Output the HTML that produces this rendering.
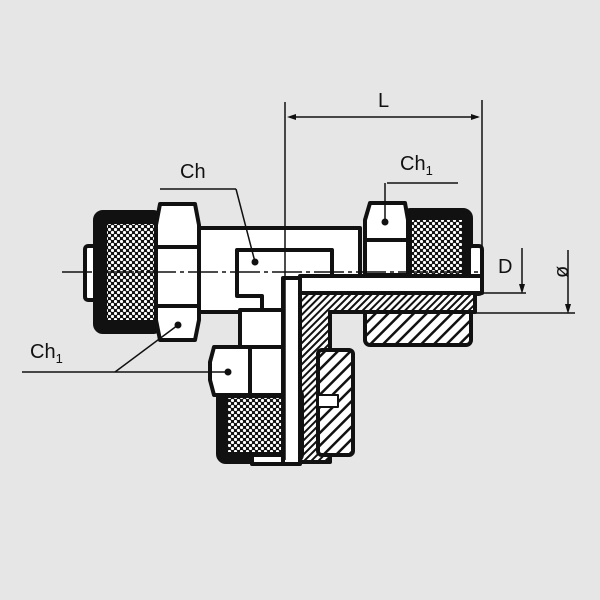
<!DOCTYPE html>
<html><head><meta charset="utf-8"><style>
html,body{margin:0;padding:0;background:#e6e6e6}
svg{display:block}
text{font-family:"Liberation Sans",sans-serif;fill:#111}
</style></head><body>
<svg width="600" height="600" viewBox="0 0 600 600" xmlns="http://www.w3.org/2000/svg">
<defs>
<pattern id="kn" width="6" height="6" patternUnits="userSpaceOnUse">
<rect width="6" height="6" fill="#111"/>
<circle cx="1.5" cy="1.5" r="1.6" fill="#fff"/>
<circle cx="4.5" cy="4.5" r="1.6" fill="#fff"/>
</pattern>
<pattern id="h1" width="5" height="5" patternUnits="userSpaceOnUse" patternTransform="rotate(45)">
<rect width="5" height="5" fill="#fff"/><rect width="2" height="5" fill="#111"/>
</pattern>
<pattern id="h2" width="9" height="9" patternUnits="userSpaceOnUse" patternTransform="rotate(45)">
<rect width="9" height="9" fill="#fff"/><rect width="2.5" height="9" fill="#111"/>
</pattern>
</defs>
<rect width="600" height="600" fill="#e6e6e6"/>

<g stroke="#111" stroke-width="4" stroke-linejoin="round">
<rect x="85" y="246" width="14" height="54" rx="3" fill="#fff"/>
<rect x="95" y="212" width="66" height="120" rx="8" fill="#111"/>
<rect x="107" y="224" width="48" height="96" fill="url(#kn)" stroke="none"/>
<rect x="197" y="228" width="163" height="84" fill="#fff"/>
<path d="M160 204 L195 204 L199 225 L199 320 L195 340 L160 340 L156 320 L156 225 Z" fill="#fff"/>
<line x1="158" y1="247" x2="197" y2="247"/>
<line x1="158" y1="306" x2="197" y2="306"/>
<path d="M237 250 L332 250 L332 278 L300 278 L300 318 L262 318 L262 296 L237 296 Z" fill="#fff"/>
<rect x="403" y="210" width="68" height="66" rx="8" fill="#111"/>
<rect x="412" y="220" width="50" height="54" fill="url(#kn)" stroke="none"/>
<rect x="469" y="246" width="13" height="48" rx="3" fill="#fff"/>
<path d="M370 203 L405 203 L408 220 L408 275 L365 275 L365 220 Z" fill="#fff"/>
<line x1="366" y1="240" x2="407" y2="240"/>
<rect x="240" y="310" width="45" height="40" fill="#fff"/>
<rect x="365" y="308" width="106" height="37" rx="5" fill="url(#h2)"/>
<path d="M300 292 L475 292 L475 312 L330 312 L330 462 L300 462 Z" fill="url(#h1)"/>
<rect x="218" y="388" width="84" height="74" rx="8" fill="#111"/>
<rect x="228" y="398" width="60" height="54" fill="url(#kn)" stroke="none"/>
<rect x="252" y="455" width="40" height="9" fill="#fff"/>
<path d="M214 347 L292 347 L292 395 L214 395 L210 380 L210 362 Z" fill="#fff"/>
<line x1="250" y1="349" x2="250" y2="393"/>
<rect x="318" y="350" width="35" height="105" rx="4" fill="url(#h2)"/>
<rect x="318" y="395" width="20" height="12" fill="#fff" stroke-width="2"/>
<rect x="283" y="278" width="17" height="186" fill="#fff"/>
<rect x="300" y="276" width="182" height="17" fill="#fff"/>
</g>

<g fill="#111">
<circle cx="255" cy="262" r="3.5"/>
<circle cx="178" cy="325" r="3.5"/>
<circle cx="228" cy="372" r="3.5"/>
<circle cx="385" cy="222" r="3.5"/>
</g>

<g stroke="#111" stroke-width="1.5" fill="none">
<line x1="62" y1="272" x2="480" y2="272" stroke-dasharray="30 4 4 4"/>
<line x1="285" y1="102" x2="285" y2="460"/>
<line x1="482" y1="100" x2="482" y2="275"/>
<line x1="290" y1="117" x2="478" y2="117"/>
<line x1="160" y1="189" x2="236" y2="189"/>
<line x1="236" y1="189" x2="255" y2="262"/>
<line x1="387" y1="183" x2="458" y2="183"/>
<line x1="385" y1="183" x2="385" y2="222"/>
<line x1="22" y1="372" x2="228" y2="372"/>
<line x1="115" y1="372" x2="178" y2="325"/>
<line x1="474" y1="293" x2="526" y2="293"/>
<line x1="522" y1="248" x2="522" y2="290"/>
<line x1="470" y1="313" x2="575" y2="313"/>
<line x1="568" y1="250" x2="568" y2="310"/>
</g>
<g fill="#111">
<path d="M287 117 L296 114 L296 120 Z"/>
<path d="M480 117 L471 114 L471 120 Z"/>
<path d="M522 294 L519 284 L525 284 Z"/>
<path d="M568 314 L565 304 L571 304 Z"/>
</g>

<text x="378" y="107" font-size="20">L</text>
<text x="180" y="178" font-size="20">Ch</text>
<text x="400" y="170" font-size="20">Ch<tspan font-size="13" dy="5">1</tspan></text>
<text x="30" y="358" font-size="20">Ch<tspan font-size="13" dy="5">1</tspan></text>
<text x="498" y="273" font-size="20">D</text>
<text x="553" y="277" font-size="20" transform="rotate(-90 561 270)">ø</text>
</svg>
</body></html>
